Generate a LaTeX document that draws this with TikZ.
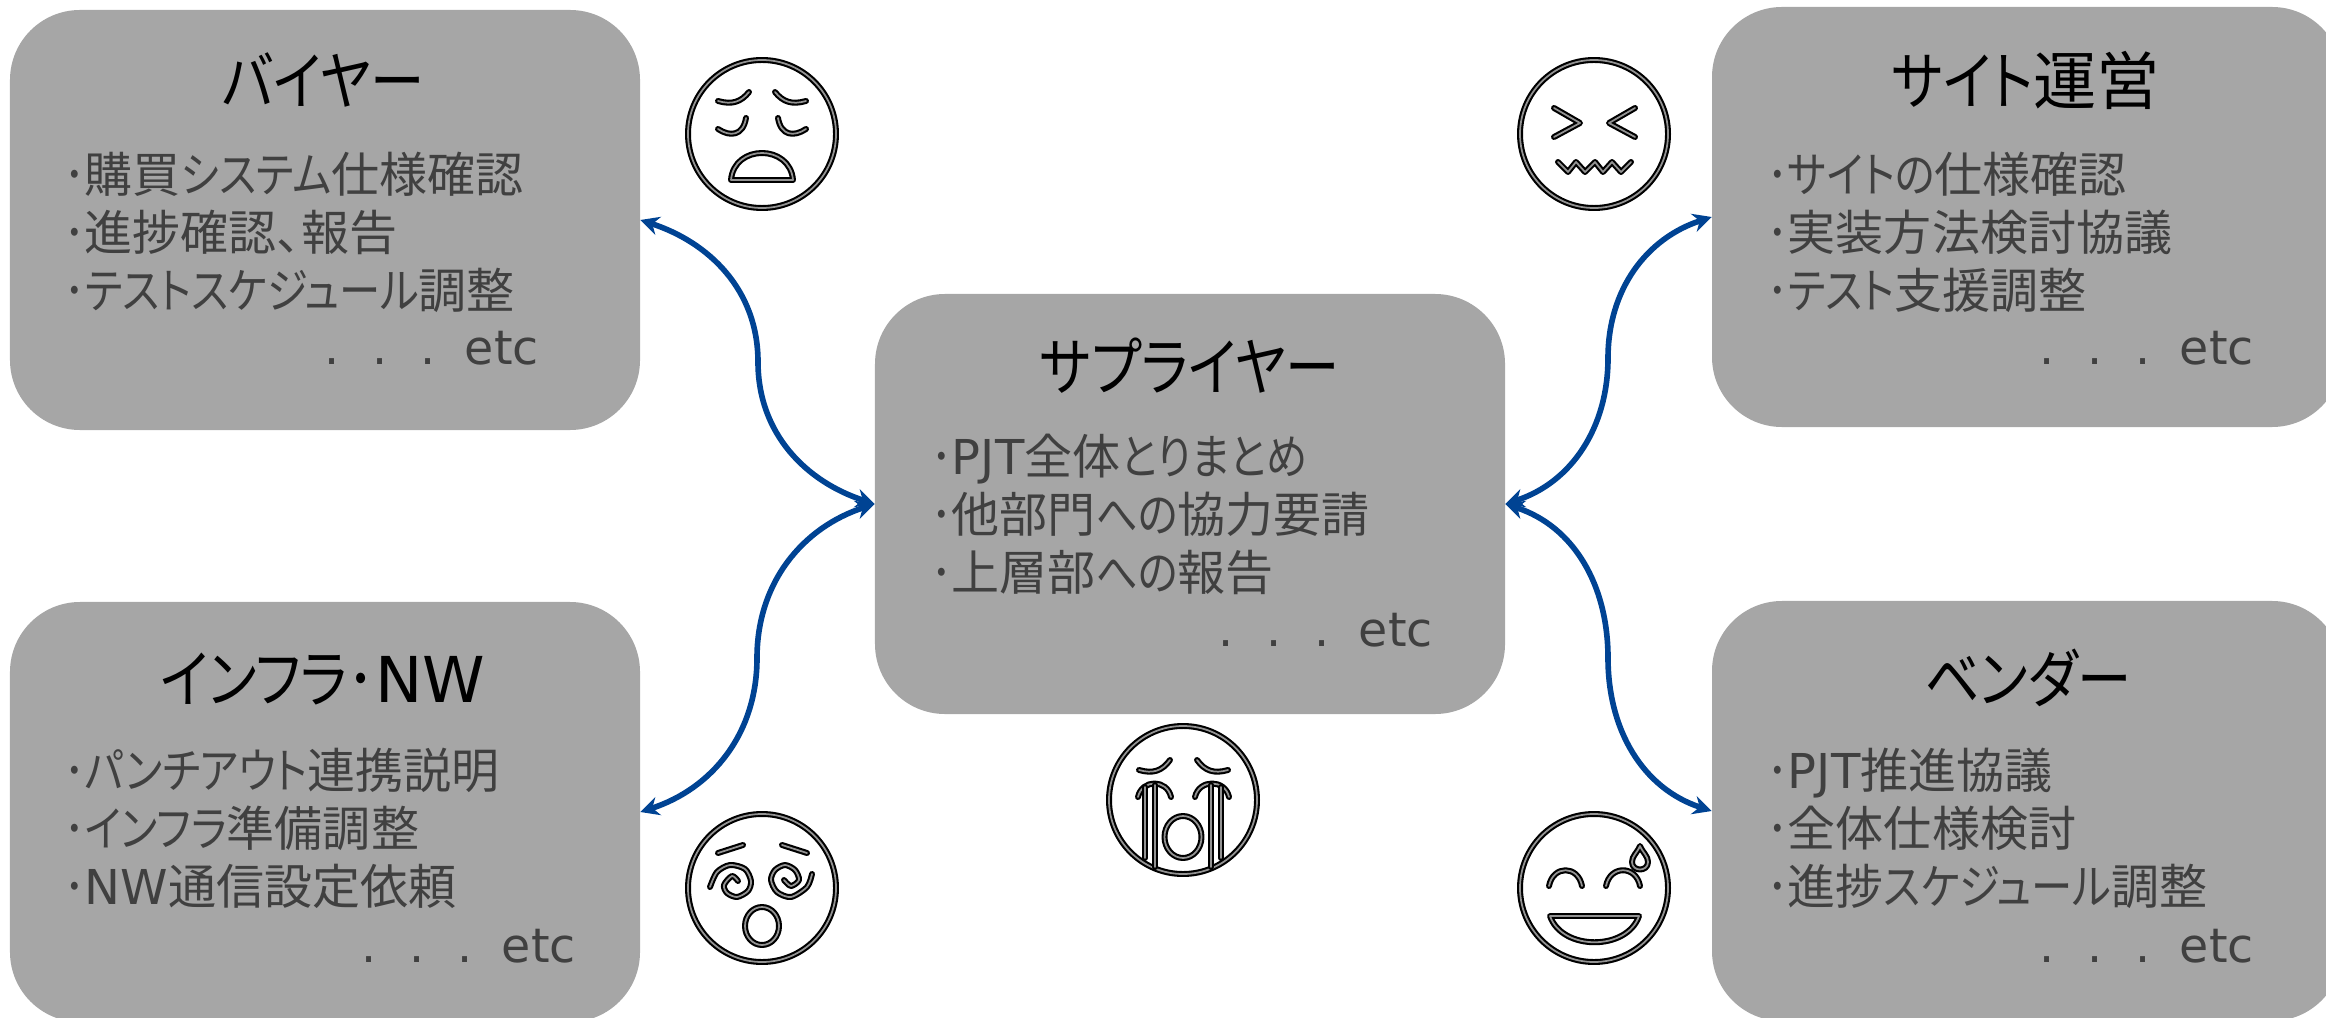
\documentclass[tikz,border=0pt]{standalone}
\usepackage{fontspec}
\setmainfont{DejaVu Sans}
\newfontfamily\cjk[RawFeature=+palt]{Noto Sans CJK JP}
\newfontfamily\kanafont[FakeStretch=0.86,RawFeature=+palt]{Noto Sans CJK JP}
\newcommand{\kn}[1]{{\kanafont #1}}
\newcommand{\lat}[1]{{\rmfamily #1}}
\newcommand{\dotsetc}{.\hspace{28pt}.\hspace{28pt}.\hspace{25pt}etc}
\usetikzlibrary{arrows.meta}
\definecolor{boxgray}{HTML}{A6A6A6}
\definecolor{textgray}{HTML}{404040}
\definecolor{linkblue}{HTML}{004393}
\tikzset{
  rolebox/.style={fill=boxgray, rounded corners=2.1cm, minimum width=18.9cm, minimum height=12.6cm, inner sep=0pt},
  roletitle/.style={anchor=base, black, inner sep=0pt, font={\cjk\fontsize{54}{54}\selectfont}},
  rolebody/.style={anchor=north west, align=left, inner sep=0pt, textgray, font={\cjk\fontsize{41}{49.5}\selectfont}},
  roleetc/.style={anchor=base east, inner sep=0pt, textgray, font={\fontsize{40.5}{49.5}\selectfont}},
  linkarrow/.style={draw=linkblue, line width=4.8pt, {Stealth[length=16pt,width=16pt]}-{Stealth[length=16pt,width=16pt]}},
  facestroke/.style={draw=black, double=gray!85, line width=1.8pt, double distance=1.5pt, line cap=round, line join=round},
}
\begin{document}
\begin{tikzpicture}[x=0.03cm,y=-0.03cm]
\useasboundingbox (0,0) rectangle (2326,1018);
\clip (0,0) rectangle (2326,1018);

\node[rolebox] (buyer) at (325,220) {};
\node[rolebox] (supplier) at (1190,504) {};
\node[rolebox] (site) at (2027,217) {};
\node[rolebox] (infra) at (325,812) {};
\node[rolebox] (vendor) at (2027,811) {};

\node[roletitle] (buyertitle) at (323,105) {\kn{バイヤー}};
\node[roletitle] (suppliertitle) at (1190,390) {\kn{サプライヤー}};
\node[roletitle] (sitetitle) at (2026,105) {\kn{サイト}運営};
\node[roletitle] (infratitle) at (323,702) {\kn{インフラ･}\lat{NW}};
\node[roletitle] (vendortitle) at (2028,702) {\kn{ベンダー}};

\node[rolebody] (buyerbody) at (64,152) {\kn{･}購買\kn{システム}仕様確認\\\kn{･}進捗確認、報告\\\kn{･テストスケジュール}調整};
\node[rolebody] (supplierbody) at (931,434) {\kn{･}\lat{PJT}全体\kn{とりまとめ}\\\kn{･}他部門\kn{への}協力要請\\\kn{･}上層部\kn{への}報告};
\node[rolebody] (sitebody) at (1767,152) {\kn{･サイトの}仕様確認\\\kn{･}実装方法検討協議\\\kn{･テスト}支援調整};
\node[rolebody] (infrabody) at (64,748) {\kn{･パンチアウト}連携説明\\\kn{･インフラ}準備調整\\\kn{･}\lat{NW}通信設定依頼};
\node[rolebody] (vendorbody) at (1767,748) {\kn{･}\lat{PJT}推進協議\\\kn{･}全体仕様検討\\\kn{･}進捗\kn{スケジュール}調整};

\node[roleetc] (buyeretc) at (539,364) {\dotsetc};
\node[roleetc] (supplieretc) at (1433,646) {\dotsetc};
\node[roleetc] (siteetc) at (2254,364) {\dotsetc};
\node[roleetc] (infraetc) at (576,962) {\dotsetc};
\node[roleetc] (vendoretc) at (2254,962) {\dotsetc};

\coordinate (bendbuyer) at (758,362);
\coordinate (bendinfra) at (757,658);
\coordinate (bendsite) at (1608,358);
\coordinate (bendvendor) at (1608,658);

\draw[linkarrow] (supplier.west) to[out=162,in=-90] (bendbuyer) to[out=90,in=-18] (buyer.east);
\draw[linkarrow] (supplier.west) to[out=198,in=90] (bendinfra) to[out=-90,in=18] (infra.east);
\draw[linkarrow] (supplier.east) to[out=18,in=-90] (bendsite) to[out=90,in=198] (site.west);
\draw[linkarrow] (supplier.east) to[out=-18,in=90] (bendvendor) to[out=-90,in=162] (vendor.west);

\begin{scope}[shift={(762,134)}]
  \draw[facestroke] (0,0) circle [radius=74];
  \draw[facestroke] (-44,-33) .. controls (-30,-29) and (-21,-32) .. (-13,-42);
  \draw[facestroke] (44,-33) .. controls (30,-29) and (21,-32) .. (13,-42);
  \draw[facestroke] (-44,-5) .. controls (-32,3) and (-19,2) .. (-16,-16);
  \draw[facestroke] (44,-5) .. controls (32,3) and (19,2) .. (16,-16);
  \draw[facestroke] (-31,46) .. controls (-28,10) and (28,10) .. (31,46) -- cycle;
\end{scope}

\begin{scope}[shift={(1594,134)}]
  \draw[facestroke] (0,0) circle [radius=74];
  \draw[facestroke] (-40,-26) -- (-14,-11) -- (-40,3);
  \draw[facestroke] (41,-26) -- (15,-11) -- (41,3);
  \draw[facestroke] (-36,28) -- (-26,38) -- (-18,28) -- (-9,38) -- (1,28) -- (9,38) -- (18,28) -- (27,38) -- (37,28);
\end{scope}

\begin{scope}[shift={(1183,800)}]
  \draw[facestroke] (0,0) circle [radius=74];
  \draw[facestroke] (-44,-30) .. controls (-30,-26) and (-21,-29) .. (-13,-40);
  \draw[facestroke] (45,-30) .. controls (31,-26) and (22,-29) .. (14,-40);
  \draw[facestroke] (-45,-3) .. controls (-41,-21) and (-16,-21) .. (-12,-3);
  \draw[facestroke] (12,-3) .. controls (16,-21) and (42,-21) .. (46,-3);
  \draw[facestroke] (-38,-13) -- (-38,58);
  \draw[facestroke] (-28,-15) -- (-28,67);
  \draw[facestroke] (28,-15) -- (28,67);
  \draw[facestroke] (38,-13) -- (38,58);
  \draw[facestroke] (0,37) ellipse [x radius=18.5, y radius=21];
\end{scope}

\begin{scope}[shift={(762,888)}]
  \draw[facestroke] (0,0) circle [radius=74];
  \draw[facestroke] (-44,-35) -- (-19,-43);
  \draw[facestroke] (45,-35) -- (20,-43);
  \draw[facestroke] plot[smooth] coordinates {(-52,-1) (-45,-16) (-32,-23) (-17,-19) (-11,-7) (-14,3) (-25,9) (-35,5) (-38,-3) (-30,-12) (-24,-7)};
  \draw[facestroke] plot[smooth] coordinates {(50,-14) (45,-1) (29,9) (15,4) (9,-8) (13,-18) (23,-23) (33,-18) (37,-8) (29,-2) (22,-8)};
  \draw[facestroke] (0,38) ellipse [x radius=17, y radius=19];
\end{scope}

\begin{scope}[shift={(1594,888)}]
  \draw[facestroke] (0,0) circle [radius=74];
  \draw[facestroke] (-45,-2) .. controls (-41,-23) and (-16,-23) .. (-12,-2);
  \draw[facestroke] (12,-2) .. controls (16,-23) and (42,-23) .. (46,-2);
  \draw[facestroke] (-44,28) .. controls (-32,63) and (33,63) .. (45,28) -- cycle;
  \draw[facestroke] (46,-42) .. controls (43,-35) and (38,-32) .. (38,-26) .. controls (38,-16) and (54,-16) .. (54,-26) .. controls (54,-32) and (49,-35) .. (46,-42) -- cycle;
\end{scope}
\end{tikzpicture}
\end{document}
